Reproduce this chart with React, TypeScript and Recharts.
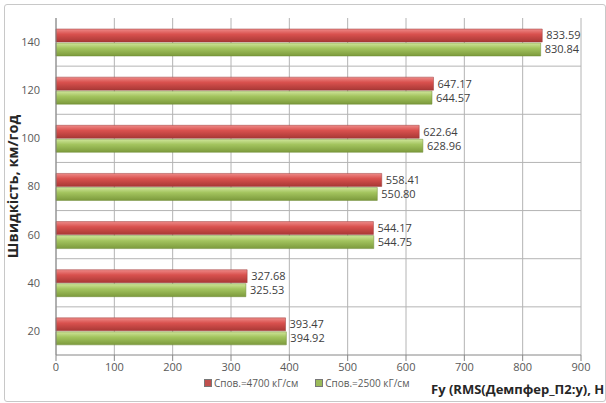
import { BarChart, Bar, XAxis, YAxis, CartesianGrid, LabelList, Legend, Label } from 'recharts'

const speeds = ['140', '120', '100', '80', '60', '40', '20']
const stiff4700 = [833.59, 647.17, 622.64, 558.41, 544.17, 327.68, 393.47]
const stiff2500 = [830.84, 644.57, 628.96, 550.8, 544.75, 325.53, 394.92]
const xTicks = [0, 100, 200, 300, 400, 500, 600, 700, 800, 900]

const data = speeds.map((s, i) => ({ speed: s, a: stiff4700[i], b: stiff2500[i] }))

const FONT = '"Open Sans", "Liberation Sans", sans-serif'
const RED = '#c0504d'
const GREEN = '#9bbb59'

function LegendBox() {
  const items = [
    { color: RED, text: 'Спов.=4700 кГ/см' },
    { color: GREEN, text: 'Спов.=2500 кГ/см' },
  ]
  return (
    <div style={{ display: 'flex', gap: 17, fontFamily: FONT, fontSize: 10, color: '#595959', whiteSpace: 'nowrap' }}>
      {items.map(it => (
        <div key={it.text} style={{ display: 'flex', alignItems: 'center' }}>
          <span style={{ width: 6, height: 6, background: it.color, border: '1px solid #777', marginRight: 2 }} />
          {it.text}
        </div>
      ))}
    </div>
  )
}

export default function App() {
  const fmt = (v: any) => Number(v).toFixed(2)
  return (
    <div style={{ position: 'absolute', left: 0, top: 0, width: 606, height: 403, background: '#fff' }}>
      <div style={{ position: 'absolute', left: 4, top: 4, width: 600, height: 396, border: '1px solid #c8c8c8', borderRadius: 3 }} />
      <BarChart
        width={606}
        height={403}
        data={data}
        layout="vertical"
        margin={{ top: 18, right: 25, left: 0, bottom: 28 }}
        barSize={13}
        barGap={1}
        style={{ position: 'absolute', left: 0, top: 0 }}
      >
        <defs>
          <linearGradient id="redFill" x1="0" y1="0" x2="0" y2="1">
            <stop offset="0%" stopColor="#ee8a88" />
            <stop offset="40%" stopColor="#d9514e" />
            <stop offset="100%" stopColor="#a83835" />
          </linearGradient>
          <linearGradient id="greenFill" x1="0" y1="0" x2="0" y2="1">
            <stop offset="0%" stopColor="#cfe59a" />
            <stop offset="40%" stopColor="#a3c45e" />
            <stop offset="100%" stopColor="#7c9a3c" />
          </linearGradient>
        </defs>
        <CartesianGrid
          stroke="#b4b4b4"
          horizontalCoordinatesGenerator={({ offset }: any) =>
            speeds.slice(1).map((_, i) => offset.top + ((i + 1) * offset.height) / speeds.length)
          }
        />
        <XAxis
          type="number"
          domain={[0, 900]}
          ticks={xTicks}
          height={20}
          tick={{ fontSize: 11, fill: '#595959', fontFamily: FONT }}
          tickLine={{ stroke: '#868686' }}
          tickSize={6}
          stroke="#868686"
        >
          <Label
            content={() => (
              <text x={431} y={394} fontFamily={FONT} fontSize={13} fontWeight="bold" fill="#262626">
                Fy (RMS(Демпфер_П2:y), Н
              </text>
            )}
          />
        </XAxis>
        <YAxis
          type="category"
          dataKey="speed"
          width={56}
          tick={{ fontSize: 11, fill: '#595959', fontFamily: FONT }}
          tickLine={false}
          tickMargin={10}
          stroke="#868686"
        >
          <Label
            value="Швидкість, км/год"
            angle={-90}
            position="insideLeft"
            offset={13}
            style={{ textAnchor: 'middle', fontFamily: FONT, fontSize: 14.5, fontWeight: 'bold', fill: '#262626' }}
          />
        </YAxis>
        <Legend
          verticalAlign="middle"
          align="center"
          content={() => <LegendBox />}
          wrapperStyle={{ top: 376, left: 204, width: 230 }}
        />
        <Bar dataKey="a" name="Спов.=4700 кГ/см" fill="url(#redFill)" stroke="#9a3a38" strokeWidth={0.5} isAnimationActive={false}>
          <LabelList dataKey="a" position="right" offset={4} formatter={fmt} style={{ fontSize: 11, fill: '#404040', fontFamily: FONT }} />
        </Bar>
        <Bar dataKey="b" name="Спов.=2500 кГ/см" fill="url(#greenFill)" stroke="#6f8a35" strokeWidth={0.5} isAnimationActive={false}>
          <LabelList dataKey="b" position="right" offset={4} formatter={fmt} style={{ fontSize: 11, fill: '#404040', fontFamily: FONT }} />
        </Bar>
      </BarChart>
    </div>
  )
}
